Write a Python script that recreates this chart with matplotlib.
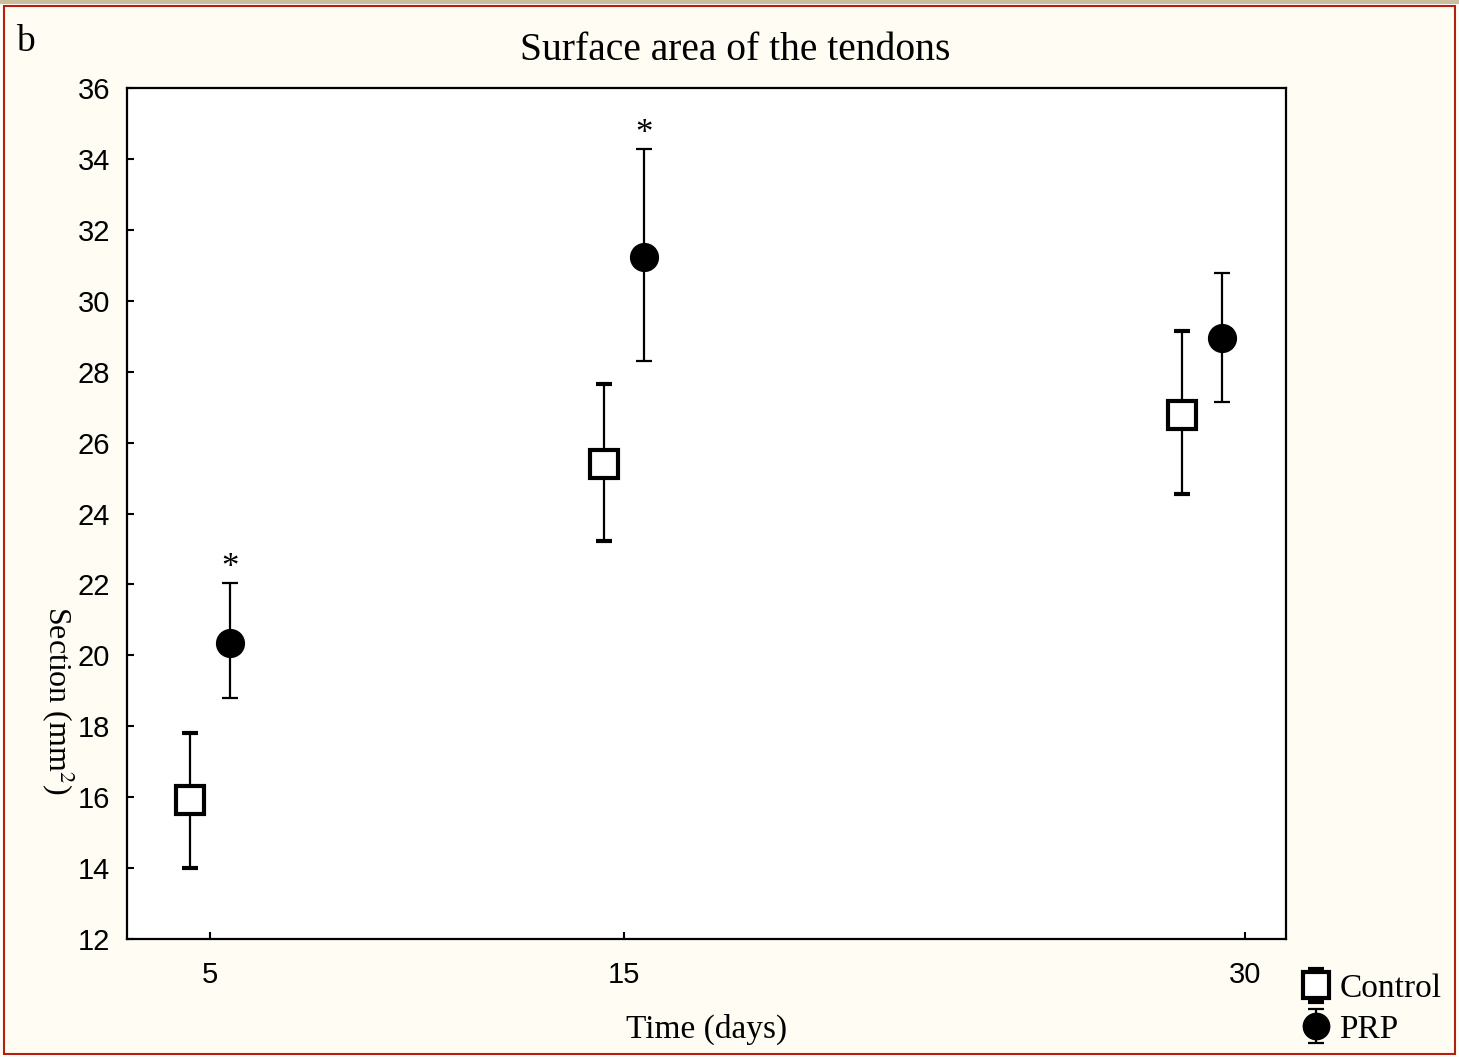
import numpy as np
import matplotlib.pyplot as plt
from matplotlib.patches import Rectangle

days = [5, 15, 30]
day_labels = ['5', '15', '30']

# horizontal placement of each group (days), as drawn in the figure
control_x = [4.52, 14.52, 28.5]
prp_x = [5.5, 15.48, 29.45]

control_mean = [15.92, 25.40, 26.78]
control_upper = [17.81, 27.65, 29.15]
control_lower = [14.00, 23.22, 24.55]

prp_mean = [20.35, 31.23, 28.95]
prp_upper = [22.04, 34.28, 30.78]
prp_lower = [18.80, 28.30, 27.14]

# significance marks above PRP
star_flags = [True, True, False]

serif = 'Liberation Serif'
sans = 'Liberation Sans'
bg = '#FFFCF3'

fig = plt.figure(figsize=(14.59, 10.57), dpi=100, facecolor=bg)
ax = fig.add_axes([0.0870, 0.1116, 0.7944, 0.8051])
ax.set_facecolor('white')

cm = np.array(control_mean)
pm = np.array(prp_mean)
c_err = [cm - np.array(control_lower), np.array(control_upper) - cm]
p_err = [pm - np.array(prp_lower), np.array(prp_upper) - pm]

hc = ax.errorbar(control_x, cm, yerr=c_err, fmt='s', ms=20, mfc='white', mec='black',
                 mew=3, ecolor='black', elinewidth=1.6, capsize=5.5, capthick=1.6,
                 label='Control', zorder=3)
hp = ax.errorbar(prp_x, pm, yerr=p_err, fmt='o', ms=20, mfc='black', mec='black',
                 ecolor='black', elinewidth=1.6, capsize=5.5, capthick=1.6,
                 label='PRP', zorder=3)

for x, up, s in zip(prp_x, prp_upper, star_flags):
    if s:
        ax.text(x, up + 0.4, '*', ha='center', va='center', fontsize=25,
                family=serif)

ax.set_xlim(3, 31)
ax.set_ylim(12, 36)
ax.set_xticks(days)
ax.set_xticklabels(day_labels)
ax.set_yticks(np.arange(12, 37, 2))
ax.tick_params(axis='both', direction='in', length=5, width=1.5, labelsize=21,
               top=False, right=False)
ax.tick_params(axis='y', pad=12)
ax.tick_params(axis='x', pad=16)
for lab in ax.get_xticklabels() + ax.get_yticklabels():
    lab.set_family(sans)
for sp in ax.spines.values():
    sp.set_linewidth(1.6)

fig.text(735 / 1459, 1 - 50 / 1057, 'Surface area of the tendons', ha='center',
         va='center', fontsize=28.5, family=serif)
ax.set_xlabel('Time (days)', fontsize=24, family=serif, labelpad=18)
fig.text(58 / 1459, 1 - 700 / 1057, 'Section (mm$^2$)', rotation=270,
         ha='center', va='center', fontsize=23, family=serif,
         math_fontfamily='stix')
fig.text(25 / 1459, 1 - 42 / 1057, 'b', ha='center', va='center', fontsize=27,
         family=serif)

leg = fig.legend(handles=[hc, hp], loc='center left',
                 bbox_to_anchor=(1286 / 1459, 1 - 1009 / 1057),
                 frameon=False, prop={'family': serif, 'size': 24},
                 handlelength=0.8, handletextpad=0.3, labelspacing=0.3,
                 markerscale=0.95, borderpad=0)

fig.patches.append(Rectangle((0.003, 0.003), 0.994, 0.991, transform=fig.transFigure,
                             fill=False, edgecolor='#B51F10', linewidth=1.5))
fig.patches.append(Rectangle((0, 0.996), 1, 0.004, transform=fig.transFigure,
                             facecolor='#C9BE9E', edgecolor='none'))

fig.savefig('out.png', dpi=100, facecolor=bg)
